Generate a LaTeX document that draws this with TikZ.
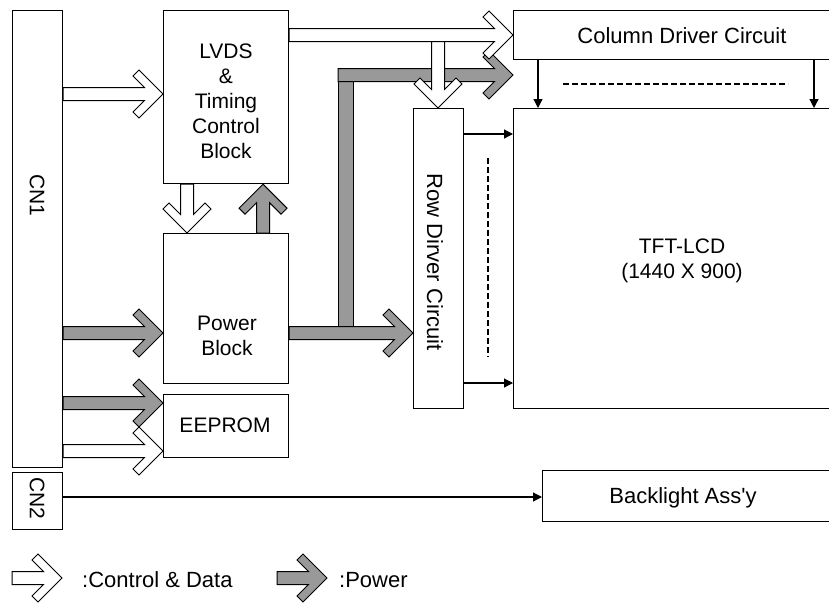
\documentclass[tikz,border=0pt]{standalone}
\usepackage{fontspec}
\setmainfont{Liberation Sans}
\usetikzlibrary{calc,arrows.meta}
\definecolor{pgray}{RGB}{153,153,153}
\newcommand\blockarrow[3]{%
  \coordinate (ba-a) at ($#3!18.5pt!#2$);
  \coordinate (ba-b) at ($#3!30pt!#2$);
  \coordinate (ba-c) at ($#3!24pt!#2$);
  \draw[#1] ($#2!6.5pt!90:#3$) -- ($(ba-a)!6.5pt!90:#3$) -- ($(ba-b)!18pt!90:#3$)
    -- ($(ba-c)!24pt!90:#3$) -- #3 -- ($(ba-c)!24pt!-90:#3$) -- ($(ba-b)!18pt!-90:#3$)
    -- ($(ba-a)!6.5pt!-90:#3$) -- ($#2!6.5pt!-90:#3$) -- cycle;}
\tikzset{
  box/.style={draw=black, line width=1.2pt, fill=white, inner sep=0pt, anchor=north west},
  lbl/.style={font=\fontsize{21}{25}\selectfont, align=center, inner sep=0pt},
  wide/.style={font=\fontsize{22}{25}\selectfont},
  hollow/.style={draw=black, fill=white, line width=1pt, line join=miter},
  power/.style={draw=black, fill=pgray, line width=1pt, line join=miter},
  sig/.style={-{Triangle[length=9pt,width=9pt]}, line width=1.2pt},
  dots/.style={dash pattern=on 6pt off 3pt, line width=2pt}
}
\begin{document}
\begin{tikzpicture}[x=1pt,y=-1pt]
\useasboundingbox (0,0) rectangle (829,603);
\clip (0,0) rectangle (829,603);
\fill[white] (0,0) rectangle (829,603);
% boxes
\node[box, minimum width=50pt, minimum height=457pt] (cn1) at (12,10) {};
\node[box, minimum width=50pt, minimum height=57pt] (cn2) at (12,472) {};
\node[box, minimum width=125pt, minimum height=173pt] (lvds) at (163,10) {};
\node[box, minimum width=125pt, minimum height=150pt] (power) at (163,233) {};
\node[box, minimum width=125pt, minimum height=63pt] (eeprom) at (163,394) {};
\node[box, minimum width=330pt, minimum height=49pt] (col) at (513,10) {};
\node[box, minimum width=330pt, minimum height=300pt] (tft) at (513,108) {};
\node[box, minimum width=50pt, minimum height=300pt] (row) at (413,108) {};
\node[box, minimum width=300pt, minimum height=51pt] (back) at (542,470) {};
% texts
\node[lbl, rotate=-90] (cn1t) at (37,195) {CN1};
\node[lbl, rotate=-90] (cn2t) at (37,498) {CN2};
\node[lbl] (lvdst) at (226,101) {LVDS\\\&\\Timing\\Control\\Block};
\node[lbl] (powt) at (227,336) {Power\\Block};
\node[lbl] (eet) at (225,425) {EEPROM};
\node[lbl, wide] (colt) at (682,36) {Column Driver Circuit};
\node[lbl] (tftt) at (682,261) {TFT-LCD\\(1440 X 900)};
\node[lbl, wide] (backt) at (683,498) {Backlight Ass\textquotesingle y};
\node[lbl, wide, rotate=-90] (rowt) at (435,262) {Row Dirver Circuit};
% coordinates for block arrows
\coordinate (h1s) at (cn1.east |- 0,94);   \coordinate (h1e) at (lvds.west |- 0,94);
\coordinate (h2s) at (lvds.south -| 187,0); \coordinate (h2e) at (power.north -| 187,0);
\coordinate (h3s) at (lvds.east |- 0,35);  \coordinate (h3e) at (col.west |- 0,35);
\coordinate (h4s) at (438,41.5);            \coordinate (h4e) at (row.north -| 438,0);
\coordinate (h5s) at (cn1.east |- 0,451);  \coordinate (h5e) at (eeprom.west |- 0,451);
\coordinate (g1s) at (cn1.east |- 0,333);  \coordinate (g1e) at (power.west |- 0,333);
\coordinate (g2s) at (cn1.east |- 0,403);  \coordinate (g2e) at (eeprom.west |- 0,403);
\coordinate (g3s) at (power.north -| 263,0); \coordinate (g3e) at (lvds.south -| 263,0);
\coordinate (g4s) at (power.east |- 0,333); \coordinate (g4e) at (row.west |- 0,333);
\coordinate (g5s) at (338,75);              \coordinate (g5e) at (col.west |- 0,75);
% power arrows
\blockarrow{power}{(g1s)}{(g1e)}
\blockarrow{power}{(g2s)}{(g2e)}
\blockarrow{power}{(g3s)}{(g3e)}
\draw[power] (338,81.5) rectangle (353,326.5);
\blockarrow{power}{(g4s)}{(g4e)}
\blockarrow{power}{(g5s)}{(g5e)}
% control arrows
\blockarrow{hollow}{(h1s)}{(h1e)}
\blockarrow{hollow}{(h2s)}{(h2e)}
\blockarrow{hollow}{(h5s)}{(h5e)}
\blockarrow{hollow}{(h3s)}{(h3e)}
\blockarrow{hollow}{(h4s)}{(h4e)}
% signal arrows
\draw[sig] (col.south -| 538,0) -- (tft.north -| 538,0);
\draw[sig] (col.south -| 814,0) -- (tft.north -| 814,0);
\draw[sig] (row.east |- 0,134) -- (tft.west |- 0,134);
\draw[sig] (row.east |- 0,383) -- (tft.west |- 0,383);
\draw[sig] (cn2.east |- 0,497) -- (back.west |- 0,497);
\draw[dots] (563,84) -- (788,84);
\draw[dots] (488,158) -- (488,357);
% legend
\coordinate (lhs) at (12,578); \coordinate (lhe) at (62,578);
\coordinate (lgs) at (277,578); \coordinate (lge) at (327,578);
\blockarrow{hollow}{(lhs)}{(lhe)}
\blockarrow{power}{(lgs)}{(lge)}
\node[lbl, wide, anchor=west] (legc) at (82,580) {:Control \& Data};
\node[lbl, wide, anchor=west] (legp) at (339,580) {:Power};
\end{tikzpicture}
\end{document}
